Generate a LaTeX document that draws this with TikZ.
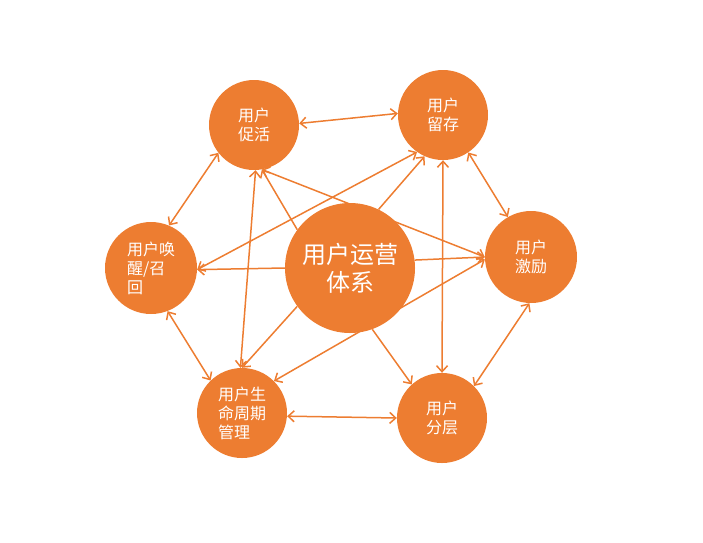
\documentclass[tikz,border=0pt]{standalone}
\usepackage{fontspec}
\newfontfamily\cjk{Noto Sans CJK SC}
\usetikzlibrary{arrows.meta,backgrounds}
\definecolor{chengse}{HTML}{ED7D31}

\begin{document}
\begin{tikzpicture}[x=1pt,y=-1pt,
	quan/.style={circle,fill=chengse,text=white,font=\cjk\fontsize{16}{19}\selectfont,align=left,inner sep=0pt,minimum size=90pt},
	lian/.style={draw=chengse,line width=1.5pt,{Straight Barb[length=6pt,width=11pt]}-{Straight Barb[length=6pt,width=11pt]}},
	dan/.style={draw=chengse,line width=1.5pt,-{Straight Barb[length=6pt,width=11pt]}}]
					\useasboundingbox (0,0) rectangle (703,542);
					
					\node[quan,minimum size=130pt,font=\cjk\fontsize{24}{28}\selectfont,align=center] (tixi) at (350,268) {用户运营\\体系};
					\node[quan] (cuhuo) at (254,125) {用户\\促活};
					\node[quan] (liucun) at (443,115) {用户\\留存};
					\node[quan,minimum size=92pt] (jili) at (531,257) {用户\\激励};
					\node[quan,minimum size=92pt] (huanxing) at (151,268) {用户唤\\醒/召\\回};
					\node[quan] (shengming) at (242,413) {用户生\\命周期\\管理};
					\node[quan] (fenceng) at (442,418) {用户\\分层};
					
					\begin{scope}[on background layer]
					% outer ring
					\draw[lian] (cuhuo.2)--(liucun.178);
					\draw[lian] (liucun.-56)--(jili.120);
					\draw[lian] (jili.-92)--(fenceng.45);
					\draw[lian] (fenceng.180)--(shengming.-4);
					\draw[lian] (shengming.134)--(huanxing.-69);
					\draw[lian] (huanxing.67)--(cuhuo.218);
					% across
					\draw[lian] (cuhuo.-88)--(shengming.92);
					\draw[lian] (cuhuo.-80)--(jili.180);
					\draw[lian] (huanxing.-2)--(liucun.235);
					\draw[lian] (liucun.-90)--(fenceng.90);
					\draw[lian] (jili.183)--(shengming.45);
					% from the centre
					\draw[dan] (tixi.144)--(cuhuo.-80);
					\draw[dan] (tixi.180)--(huanxing.-2);
					\draw[dan] (tixi.64)--(liucun.-114);
					\draw[dan] (tixi.7)--(jili.180);
					\draw[dan] (tixi.-144)--(shengming.90);
					\draw[dan] (tixi.-70)--(fenceng.132);
					\end{scope}
\end{tikzpicture}
\end{document}
